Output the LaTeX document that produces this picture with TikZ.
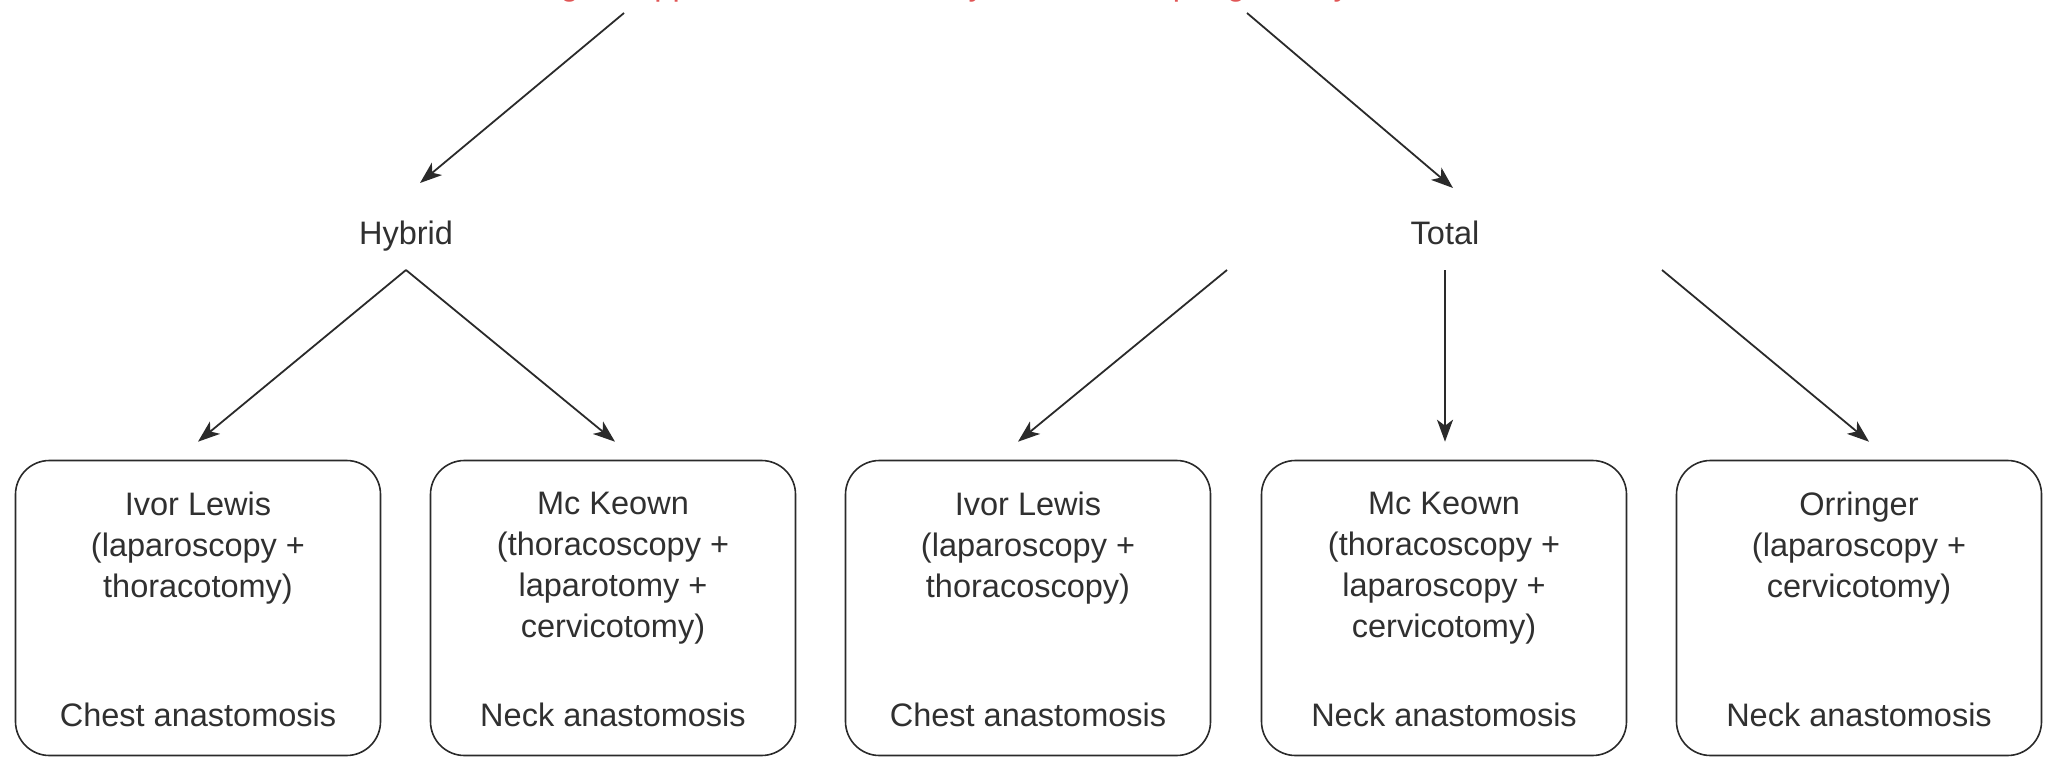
\documentclass[tikz,border=0pt]{standalone}
\usepackage{fontspec}
\setmainfont{Liberation Sans}
\usetikzlibrary{arrows.meta}
\definecolor{ink}{HTML}{2A2A2A}
\definecolor{txt}{HTML}{303030}
\definecolor{redtitle}{HTML}{E05555}
\begin{document}
\begin{tikzpicture}[x=1pt,y=-1pt,
  lbl/.style={font=\fontsize{32.5}{41}\selectfont, text=txt, inner sep=0pt, align=center},
  card/.style={draw=ink, line width=1.6pt, rounded corners=34pt, minimum width=365pt, minimum height=295pt, inner sep=0pt},
  arr/.style={draw=ink, line width=1.8pt, -{Stealth[length=22pt,width=16pt,inset=6pt]}}]
\useasboundingbox (0,0) rectangle (2047,757);
\clip (0,0) rectangle (2047,757);

% title (cut off at the top of the picture, as in the reference)
\node[lbl, text=redtitle, anchor=base] (title) at (930,-4) {Surgical approaches in minimally invasive esophagectomy};

% level 2
\node[lbl, anchor=base] (hyb) at (406,244) {Hybrid};
\node[lbl, anchor=base] (tot) at (1445,244) {Total};

% cards
\node[card] (c1) at (198,608) {};
\node[card] (c2) at (613,608) {};
\node[card] (c3) at (1028,608) {};
\node[card] (c4) at (1444,608) {};
\node[card] (c5) at (1859,608) {};

\node[lbl, anchor=north] (c1t) at (198,492) {Ivor Lewis\\(laparoscopy +\\thoracotomy)};
\node[lbl, anchor=north] (c2t) at (613,492) {Mc Keown\\(thoracoscopy +\\laparotomy +\\cervicotomy)};
\node[lbl, anchor=north] (c3t) at (1028,492) {Ivor Lewis\\(laparoscopy +\\thoracoscopy)};
\node[lbl, anchor=north] (c4t) at (1444,492) {Mc Keown\\(thoracoscopy +\\laparoscopy +\\cervicotomy)};
\node[lbl, anchor=north] (c5t) at (1859,492) {Orringer\\(laparoscopy +\\cervicotomy)};

\node[lbl, anchor=base] (c1b) at (198,726) {Chest anastomosis};
\node[lbl, anchor=base] (c2b) at (613,726) {Neck anastomosis};
\node[lbl, anchor=base] (c3b) at (1028,726) {Chest anastomosis};
\node[lbl, anchor=base] (c4b) at (1444,726) {Neck anastomosis};
\node[lbl, anchor=base] (c5b) at (1859,726) {Neck anastomosis};

% connector end points
\coordinate (t1) at (624,13);
\coordinate (t2) at (1247,13);
\coordinate (hyb-in) at (420,183);
\coordinate (tot-in) at (1453,188);
\coordinate (hs) at (406,270);
\coordinate (ts1) at (1227,270);
\coordinate (ts2) at (1445,270);
\coordinate (ts3) at (1662,270);

\draw[arr] (t1) -- (hyb-in);
\draw[arr] (t2) -- (tot-in);

\draw[arr] (hs) -- ([yshift=18pt]c1.north);
\draw[arr] (hs) -- ([yshift=18pt,xshift=2pt]c2.north);
\draw[arr] (ts1) -- ([yshift=18pt,xshift=-10pt]c3.north);
\draw[arr] (ts2) -- ([yshift=18pt,xshift=1pt]c4.north);
\draw[arr] (ts3) -- ([yshift=18pt,xshift=10pt]c5.north);
\end{tikzpicture}
\end{document}
